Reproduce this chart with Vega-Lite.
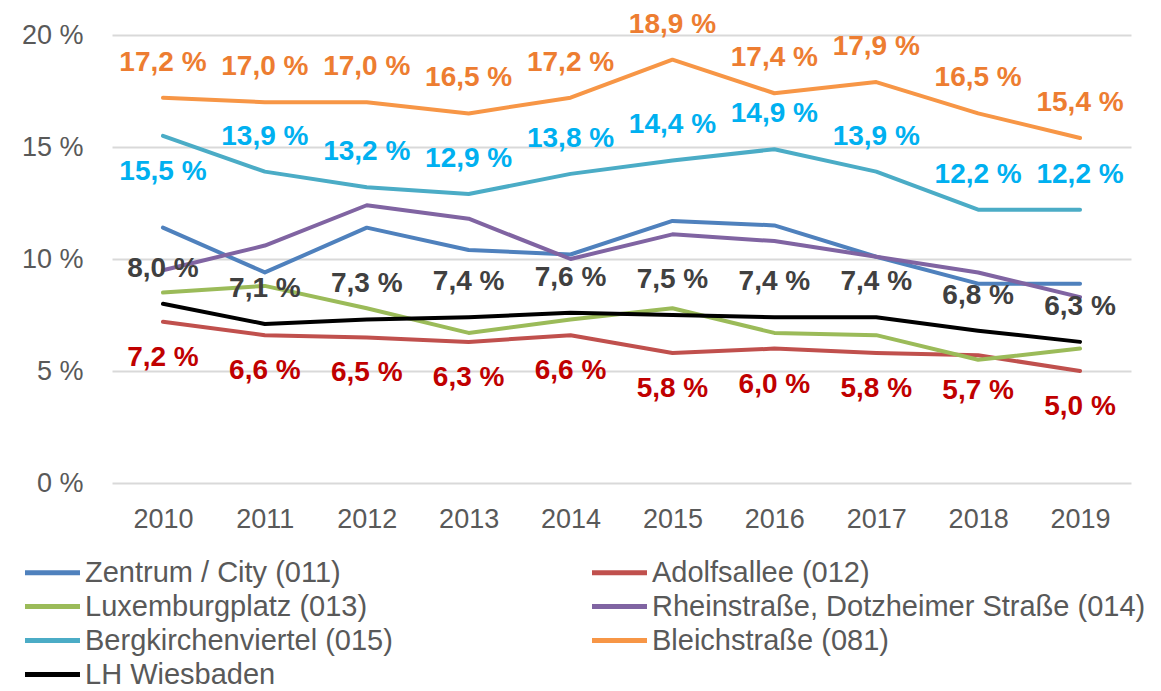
{
  "$schema": "https://vega.github.io/schema/vega-lite/v6.json",
  "width": 1019,
  "height": 448,
  "autosize": {"type": "none"},
  "padding": {"left": 112, "top": 35, "right": 30, "bottom": 208},
  "background": "white",
  "config": {
    "font": "Liberation Sans",
    "view": {"stroke": null},
    "axis": {"labelFont": "Liberation Sans", "labelColor": "#595959", "labelFontSize": 27, "domain": false, "ticks": false, "title": null}
  },
  "data": {"values": [
    {"year": "2010", "series": "Zentrum / City (011)", "value": 11.4},
    {"year": "2011", "series": "Zentrum / City (011)", "value": 9.4},
    {"year": "2012", "series": "Zentrum / City (011)", "value": 11.4},
    {"year": "2013", "series": "Zentrum / City (011)", "value": 10.4},
    {"year": "2014", "series": "Zentrum / City (011)", "value": 10.2},
    {"year": "2015", "series": "Zentrum / City (011)", "value": 11.7},
    {"year": "2016", "series": "Zentrum / City (011)", "value": 11.5},
    {"year": "2017", "series": "Zentrum / City (011)", "value": 10.1},
    {"year": "2018", "series": "Zentrum / City (011)", "value": 8.9},
    {"year": "2019", "series": "Zentrum / City (011)", "value": 8.9},
    {"year": "2010", "series": "Adolfsallee (012)", "value": 7.2},
    {"year": "2011", "series": "Adolfsallee (012)", "value": 6.6},
    {"year": "2012", "series": "Adolfsallee (012)", "value": 6.5},
    {"year": "2013", "series": "Adolfsallee (012)", "value": 6.3},
    {"year": "2014", "series": "Adolfsallee (012)", "value": 6.6},
    {"year": "2015", "series": "Adolfsallee (012)", "value": 5.8},
    {"year": "2016", "series": "Adolfsallee (012)", "value": 6.0},
    {"year": "2017", "series": "Adolfsallee (012)", "value": 5.8},
    {"year": "2018", "series": "Adolfsallee (012)", "value": 5.7},
    {"year": "2019", "series": "Adolfsallee (012)", "value": 5.0},
    {"year": "2010", "series": "Luxemburgplatz (013)", "value": 8.5},
    {"year": "2011", "series": "Luxemburgplatz (013)", "value": 8.8},
    {"year": "2012", "series": "Luxemburgplatz (013)", "value": 7.8},
    {"year": "2013", "series": "Luxemburgplatz (013)", "value": 6.7},
    {"year": "2014", "series": "Luxemburgplatz (013)", "value": 7.3},
    {"year": "2015", "series": "Luxemburgplatz (013)", "value": 7.8},
    {"year": "2016", "series": "Luxemburgplatz (013)", "value": 6.7},
    {"year": "2017", "series": "Luxemburgplatz (013)", "value": 6.6},
    {"year": "2018", "series": "Luxemburgplatz (013)", "value": 5.5},
    {"year": "2019", "series": "Luxemburgplatz (013)", "value": 6.0},
    {"year": "2010", "series": "Rheinstraße, Dotzheimer Straße (014)", "value": 9.5},
    {"year": "2011", "series": "Rheinstraße, Dotzheimer Straße (014)", "value": 10.6},
    {"year": "2012", "series": "Rheinstraße, Dotzheimer Straße (014)", "value": 12.4},
    {"year": "2013", "series": "Rheinstraße, Dotzheimer Straße (014)", "value": 11.8},
    {"year": "2014", "series": "Rheinstraße, Dotzheimer Straße (014)", "value": 10.0},
    {"year": "2015", "series": "Rheinstraße, Dotzheimer Straße (014)", "value": 11.1},
    {"year": "2016", "series": "Rheinstraße, Dotzheimer Straße (014)", "value": 10.8},
    {"year": "2017", "series": "Rheinstraße, Dotzheimer Straße (014)", "value": 10.1},
    {"year": "2018", "series": "Rheinstraße, Dotzheimer Straße (014)", "value": 9.4},
    {"year": "2019", "series": "Rheinstraße, Dotzheimer Straße (014)", "value": 8.3},
    {"year": "2010", "series": "Bergkirchenviertel (015)", "value": 15.5},
    {"year": "2011", "series": "Bergkirchenviertel (015)", "value": 13.9},
    {"year": "2012", "series": "Bergkirchenviertel (015)", "value": 13.2},
    {"year": "2013", "series": "Bergkirchenviertel (015)", "value": 12.9},
    {"year": "2014", "series": "Bergkirchenviertel (015)", "value": 13.8},
    {"year": "2015", "series": "Bergkirchenviertel (015)", "value": 14.4},
    {"year": "2016", "series": "Bergkirchenviertel (015)", "value": 14.9},
    {"year": "2017", "series": "Bergkirchenviertel (015)", "value": 13.9},
    {"year": "2018", "series": "Bergkirchenviertel (015)", "value": 12.2},
    {"year": "2019", "series": "Bergkirchenviertel (015)", "value": 12.2},
    {"year": "2010", "series": "Bleichstraße (081)", "value": 17.2},
    {"year": "2011", "series": "Bleichstraße (081)", "value": 17.0},
    {"year": "2012", "series": "Bleichstraße (081)", "value": 17.0},
    {"year": "2013", "series": "Bleichstraße (081)", "value": 16.5},
    {"year": "2014", "series": "Bleichstraße (081)", "value": 17.2},
    {"year": "2015", "series": "Bleichstraße (081)", "value": 18.9},
    {"year": "2016", "series": "Bleichstraße (081)", "value": 17.4},
    {"year": "2017", "series": "Bleichstraße (081)", "value": 17.9},
    {"year": "2018", "series": "Bleichstraße (081)", "value": 16.5},
    {"year": "2019", "series": "Bleichstraße (081)", "value": 15.4},
    {"year": "2010", "series": "LH Wiesbaden", "value": 8.0},
    {"year": "2011", "series": "LH Wiesbaden", "value": 7.1},
    {"year": "2012", "series": "LH Wiesbaden", "value": 7.3},
    {"year": "2013", "series": "LH Wiesbaden", "value": 7.4},
    {"year": "2014", "series": "LH Wiesbaden", "value": 7.6},
    {"year": "2015", "series": "LH Wiesbaden", "value": 7.5},
    {"year": "2016", "series": "LH Wiesbaden", "value": 7.4},
    {"year": "2017", "series": "LH Wiesbaden", "value": 7.4},
    {"year": "2018", "series": "LH Wiesbaden", "value": 6.8},
    {"year": "2019", "series": "LH Wiesbaden", "value": 6.3}
  ]},
  "transform": [
    {"calculate": "replace(format(datum.value, '.1f'), '.', ',') + ' %'", "as": "label"}
  ],
  "encoding": {
    "x": {"field": "year", "type": "ordinal", "scale": {"type": "point", "padding": 0.5},
      "axis": {"labelAngle": 0, "labelPadding": 23, "grid": false}},
    "y": {"field": "value", "type": "quantitative", "scale": {"domain": [0, 20]},
      "axis": {"values": [0, 5, 10, 15, 20], "labelExpr": "datum.value + ' %'", "labelPadding": 29, "gridColor": "#D9D9D9", "gridWidth": 2}}
  },
  "layer": [
    {
      "mark": {"type": "line", "strokeWidth": 4, "strokeCap": "round", "strokeJoin": "round"},
      "encoding": {
        "color": {"field": "series", "type": "nominal",
          "scale": {
            "domain": ["Zentrum / City (011)", "Luxemburgplatz (013)", "Bergkirchenviertel (015)", "LH Wiesbaden", "Adolfsallee (012)", "Rheinstraße, Dotzheimer Straße (014)", "Bleichstraße (081)"],
            "range": ["#4F81BD", "#9BBB59", "#4BACC6", "#000000", "#C0504D", "#8064A2", "#F79646"]
          },
          "legend": {
            "title": null, "orient": "none", "legendX": -76, "legendY": 521,
            "columns": 2, "columnPadding": 189, "rowPadding": 2,
            "symbolType": "M-2,0H2", "symbolSize": 756, "symbolStrokeWidth": 5,
            "labelFont": "Liberation Sans", "labelFontSize": 29, "labelColor": "#595959", "labelLimit": 700, "labelOffset": 16
          }
        }
      }
    },
    {
      "transform": [{"filter": "datum.series == 'Bleichstraße (081)' || datum.series == 'LH Wiesbaden' || (datum.series == 'Bergkirchenviertel (015)' && datum.year != '2010')"}],
      "mark": {"type": "text", "fontSize": 28, "fontWeight": "bold", "dy": -35, "baseline": "middle"},
      "encoding": {
        "text": {"field": "label"},
        "color": {"field": "series", "type": "nominal", "legend": null,
          "scale": {"domain": ["Bleichstraße (081)", "LH Wiesbaden", "Bergkirchenviertel (015)", "Adolfsallee (012)"], "range": ["#ED7D31", "#404040", "#00B0F0", "#C00000"]}}
      }
    },
    {
      "transform": [{"filter": "datum.series == 'Adolfsallee (012)' || (datum.series == 'Bergkirchenviertel (015)' && datum.year == '2010')"}],
      "mark": {"type": "text", "fontSize": 28, "fontWeight": "bold", "dy": 36, "baseline": "middle"},
      "encoding": {
        "text": {"field": "label"},
        "color": {"field": "series", "type": "nominal", "legend": null,
          "scale": {"domain": ["Bleichstraße (081)", "LH Wiesbaden", "Bergkirchenviertel (015)", "Adolfsallee (012)"], "range": ["#ED7D31", "#404040", "#00B0F0", "#C00000"]}}
      }
    }
  ],
  "resolve": {"scale": {"color": "independent"}}
}
